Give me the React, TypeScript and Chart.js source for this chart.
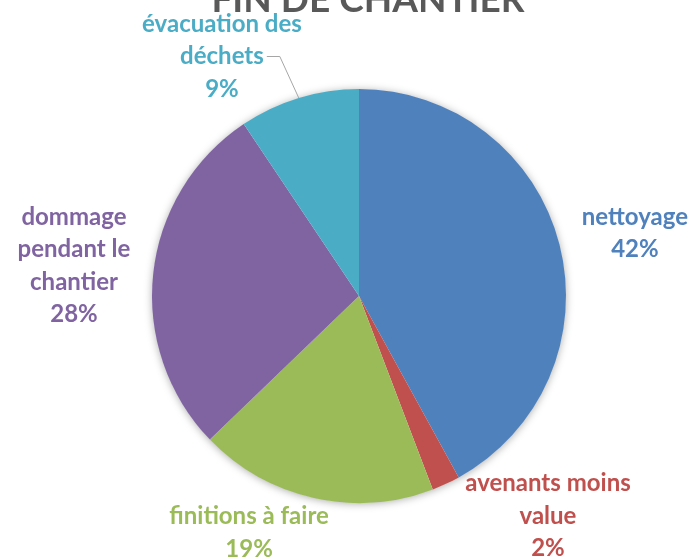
import React, { useEffect, useRef } from "react";
import { Chart, registerables } from "chart.js";
Chart.register(...registerables);

const title = "FIN DE CHANTIER";
const categories = [
  "nettoyage",
  "avenants moins value",
  "finitions à faire",
  "dommage pendant le chantier",
  "évacuation des déchets",
];
const values = [42.0, 2.2, 18.6, 27.8, 9.4];
const colors = ["#4F81BD", "#C0504D", "#9BBB59", "#8064A2", "#4BACC6"];
const labelLines = [
  ["nettoyage"],
  ["avenants moins", "value"],
  ["finitions à faire"],
  ["dommage", "pendant le", "chantier"],
  ["évacuation des", "déchets"],
];
// label block centres relative to pie centre, in units of radius
const labelAnchors = [
  [1.333, -0.302],
  [0.913, 1.063],
  [-0.531, 1.143],
  [-1.377, -0.145],
  [-0.662, -1.157],
];

const FONT = "Lato, 'Open Sans', sans-serif";

const piePlugin = {
  id: "pieDecor",
  beforeDatasetsDraw(chart: any) {
    const meta = chart.getDatasetMeta(0);
    const arc = meta.data[0];
    if (!arc) return;
    const { x, y, outerRadius } = arc.getProps(["x", "y", "outerRadius"], true);
    const ctx = chart.ctx;
    ctx.save();
    ctx.shadowColor = "rgba(0,0,0,0.35)";
    ctx.shadowBlur = 9;
    ctx.shadowOffsetX = 0;
    ctx.shadowOffsetY = 1;
    ctx.fillStyle = "#ffffff";
    ctx.beginPath();
    ctx.arc(x, y, outerRadius - 0.5, 0, Math.PI * 2);
    ctx.fill();
    ctx.restore();
  },
  afterDraw(chart: any) {
    const ctx = chart.ctx;
    const meta = chart.getDatasetMeta(0);
    const total = values.reduce((a, b) => a + b, 0);
    ctx.save();
    // title
    ctx.font = `bold 37px ${FONT}`;
    ctx.fillStyle = "#595959";
    ctx.textAlign = "center";
    ctx.textBaseline = "alphabetic";
    ctx.fillText(title, 368, 12);

    const lineH = 32.5;
    meta.data.forEach((el: any, i: number) => {
      const { x, y, outerRadius, startAngle, endAngle } = el.getProps(
        ["x", "y", "outerRadius", "startAngle", "endAngle"],
        true
      );
      const lines = [...labelLines[i], Math.round((values[i] / total) * 100) + "%"];
      const cx = x + labelAnchors[i][0] * outerRadius;
      const cy = y + labelAnchors[i][1] * outerRadius;
      ctx.font = `bold 24px ${FONT}`;
      ctx.fillStyle = colors[i];
      ctx.textAlign = "center";
      ctx.textBaseline = "middle";
      const top = cy - ((lines.length - 1) * lineH) / 2;
      lines.forEach((t, k) => ctx.fillText(t, cx, top + k * lineH));
      if (i === 4) {
        // leader line from slice to label
        const mid = (startAngle + endAngle) / 2;
        const px = x + Math.cos(mid) * outerRadius;
        const py = y + Math.sin(mid) * outerRadius;
        const ly = top + 1 * lineH;
        const w = ctx.measureText(lines[1]).width;
        const ex = cx + w / 2 + 3;
        ctx.strokeStyle = "#A6A6A6";
        ctx.lineWidth = 1;
        ctx.beginPath();
        ctx.moveTo(px, py);
        ctx.lineTo(ex + 13, ly);
        ctx.lineTo(ex, ly);
        ctx.stroke();
      }
    });
    ctx.restore();
  },
};

export default function App() {
  const ref = useRef<HTMLCanvasElement>(null);
  useEffect(() => {
    if (!ref.current) return;
    const chart = new Chart(ref.current, {
      type: "pie",
      data: {
        labels: categories,
        datasets: [
          {
            data: values,
            backgroundColor: colors,
            borderWidth: 0,
          },
        ],
      },
      options: {
        animation: false,
        responsive: false,
        devicePixelRatio: 1,
        layout: { padding: { left: 152, right: 130, top: 89, bottom: 57 } },
        plugins: {
          legend: { display: false },
          tooltip: { enabled: false },
          title: { display: false },
        },
      },
      plugins: [piePlugin],
    });
    let alive = true;
    (document as any).fonts?.load?.(`bold 24px Lato`).then(() => {
      if (alive) chart.update();
    });
    return () => {
      alive = false;
      chart.destroy();
    };
  }, []);
  return (
    <div style={{ position: "absolute", left: 0, top: 0, width: 696, height: 560, background: "#fff" }}>
      <canvas ref={ref} width={696} height={560} style={{ display: "block" }} />
    </div>
  );
}
